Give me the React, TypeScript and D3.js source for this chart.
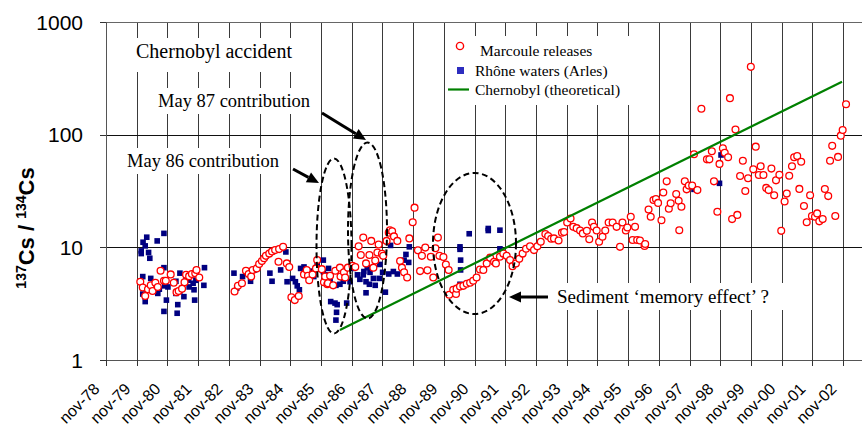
import React, { useEffect, useRef } from 'react';
import * as d3 from 'd3';

// x axis labels (one per November, Excel date axis)
const tickLabels = [
	'nov-78', 'nov-79', 'nov-80', 'nov-81', 'nov-82', 'nov-83', 'nov-84',
	'nov-85', 'nov-86', 'nov-87', 'nov-88', 'nov-89', 'nov-90', 'nov-91',
	'nov-92', 'nov-93', 'nov-94', 'nov-95', 'nov-96', 'nov-97', 'nov-98',
	'nov-99', 'nov-00', 'nov-01', 'nov-02',
];
const yTicks = [1, 10, 100, 1000];
const xEnd = 2003.45; // axis runs a bit past nov-02

// 137Cs/134Cs ratio, [decimal year, ratio]
const marcoule: [number, number][] = [
	[1979.95, 4.95], [1980.03, 4.4], [1980.11, 3.7], [1980.2, 4.25], [1980.29, 4.6], [1980.35, 4.1],
	[1980.44, 4.85], [1980.52, 4.45], [1980.61, 6.2], [1980.72, 5.05], [1980.78, 5.05], [1980.94, 5.75],
	[1981.04, 4.85], [1981.13, 4.0], [1981.2, 4.1], [1981.31, 4.3], [1981.39, 4.9], [1981.44, 5.7],
	[1981.54, 5.55], [1981.63, 5.8], [1981.74, 5.9], [1981.78, 6.3], [1981.87, 5.4],
	[1983.02, 4.05], [1983.13, 4.55], [1983.26, 4.8], [1983.39, 6.2], [1983.48, 5.8], [1983.56, 5.5],
	[1983.61, 6.3], [1983.74, 6.5], [1983.82, 7.1], [1983.91, 7.55], [1983.98, 8.0], [1984.04, 8.4],
	[1984.15, 8.8], [1984.24, 9.2], [1984.34, 9.45], [1984.45, 7.45], [1984.47, 9.65], [1984.6, 10.1],
	[1984.72, 7.2], [1984.8, 6.7], [1984.87, 3.6], [1984.98, 3.4], [1985.11, 3.7], [1985.28, 5.75],
	[1985.37, 6.3], [1985.41, 5.6], [1985.45, 5.1], [1985.56, 5.75], [1985.67, 6.5], [1985.71, 7.7],
	[1985.86, 6.4], [1985.93, 4.9], [1985.97, 5.5], [1986.04, 4.7], [1986.06, 4.8], [1986.13, 5.6],
	[1986.23, 4.6], [1986.3, 6.2], [1986.45, 6.6], [1986.47, 5.5], [1986.58, 6.0], [1986.62, 5.4],
	[1986.71, 6.6], [1986.86, 6.85], [1986.95, 6.7], [1987.06, 10.2], [1987.13, 8.55], [1987.21, 12.2],
	[1987.3, 7.2], [1987.41, 8.55], [1987.47, 11.4], [1987.54, 6.6], [1987.6, 7.65], [1987.67, 9.0],
	[1987.71, 10.6], [1987.82, 8.75], [1987.86, 8.4], [1987.97, 11.4], [1988.04, 13.5], [1988.08, 14.2],
	[1988.15, 13.9], [1988.21, 12.5], [1988.32, 11.4], [1988.41, 7.55], [1988.47, 6.6], [1988.54, 6.0],
	[1988.64, 5.4], [1988.71, 12.0], [1988.82, 16.7], [1988.88, 22.5], [1988.99, 9.4], [1989.06, 6.15],
	[1989.12, 8.4], [1989.23, 9.95], [1989.3, 6.25], [1989.41, 8.25], [1989.49, 5.4], [1989.56, 9.8],
	[1989.64, 12.2], [1989.69, 8.4], [1989.82, 8.2], [1989.9, 7.05], [1989.99, 6.3],
	[1990.01, 3.8], [1990.14, 4.2], [1990.23, 3.85], [1990.25, 4.3], [1990.36, 4.5], [1990.47, 4.55],
	[1990.58, 4.75], [1990.69, 4.85], [1990.79, 5.05], [1990.9, 5.4], [1991.01, 6.35], [1991.12, 6.3],
	[1991.23, 7.2], [1991.34, 8.1], [1991.47, 7.45], [1991.53, 7.2], [1991.66, 8.25], [1991.77, 8.8],
	[1991.88, 8.4], [1991.99, 7.7], [1992.07, 6.8], [1992.18, 7.2], [1992.29, 7.9], [1992.4, 8.8],
	[1992.51, 9.7], [1992.64, 10.2], [1992.77, 9.45], [1992.88, 10.2], [1992.99, 11.2], [1993.14, 13.1],
	[1993.23, 12.6], [1993.33, 11.9], [1993.42, 12.0], [1993.57, 11.5], [1993.68, 13.5], [1993.75, 13.7],
	[1993.85, 16.6], [1993.96, 18.0], [1994.05, 15.2], [1994.16, 14.8], [1994.27, 14.1], [1994.36, 13.3],
	[1994.49, 14.0], [1994.57, 11.8], [1994.66, 16.6], [1994.72, 15.2], [1994.81, 14.1], [1994.89, 11.2],
	[1995.0, 12.4], [1995.09, 14.1], [1995.2, 16.6], [1995.33, 16.6], [1995.46, 15.2], [1995.57, 10.1],
	[1995.65, 16.6], [1995.76, 14.1], [1995.81, 15.0], [1995.92, 18.7], [1995.98, 11.6], [1996.06, 15.2],
	[1996.13, 11.6], [1996.22, 11.5], [1996.37, 10.3], [1996.39, 10.7], [1996.5, 21.7], [1996.57, 18.7],
	[1996.66, 26.3], [1996.74, 26.8], [1996.81, 24.8], [1996.92, 17.4], [1996.98, 30.7], [1997.09, 38.5],
	[1997.16, 22.0], [1997.22, 24.6], [1997.4, 29.7], [1997.48, 25.9], [1997.5, 14.2], [1997.57, 22.9],
	[1997.68, 38.5], [1997.74, 32.7], [1997.81, 35.3], [1997.92, 35.3], [1997.98, 67], [1998.09, 32.2],
	[1998.22, 170], [1998.4, 60.4], [1998.48, 60.4], [1998.56, 71.3], [1998.63, 38.5], [1998.74, 20.7],
	[1998.81, 55], [1998.92, 75.6], [1998.98, 69], [1999.09, 63], [1999.15, 211], [1999.22, 17.8],
	[1999.33, 111], [1999.39, 19.4], [1999.48, 43], [1999.57, 58.7], [1999.65, 31.6], [1999.74, 41],
	[1999.83, 400], [1999.91, 49.2], [1999.99, 78.3], [2000.09, 43.8], [2000.15, 52.5], [2000.24, 43.8],
	[2000.33, 33.7], [2000.41, 32.2], [2000.5, 50], [2000.59, 29], [2000.65, 39.3], [2000.76, 44],
	[2000.82, 14.0], [2000.93, 25.5], [2001.0, 30], [2001.08, 43.2], [2001.17, 52.5], [2001.24, 63],
	[2001.34, 64.5], [2001.41, 33], [2001.47, 57.5], [2001.56, 23.3], [2001.65, 16.7], [2001.76, 29],
	[2001.82, 19.0], [2001.92, 18.7], [2001.99, 20.0], [2002.06, 17.0], [2002.17, 17.8], [2002.24, 32.9],
	[2002.35, 28.5], [2002.41, 58.7], [2002.48, 79.6], [2002.58, 19.0], [2002.67, 63.5], [2002.76, 98],
	[2002.82, 110], [2002.93, 186],
];

const rhone: [number, number][] = [
	[1979.98, 9.3], [1979.98, 8.8], [1980.03, 5.5], [1980.03, 3.85], [1980.04, 11.1], [1980.11, 10.3],
	[1980.11, 3.3], [1980.16, 12.3], [1980.22, 9.0], [1980.24, 4.2], [1980.26, 8.0], [1980.29, 5.3],
	[1980.37, 4.3], [1980.5, 11.4], [1980.52, 3.9], [1980.57, 4.25], [1980.72, 13.3], [1980.72, 6.6],
	[1980.72, 2.7], [1980.74, 4.55], [1980.8, 3.4], [1980.85, 4.45], [1981.11, 5.0], [1981.11, 3.9],
	[1981.15, 2.6], [1981.17, 3.1], [1981.24, 5.9], [1981.24, 4.1], [1981.37, 3.65], [1981.44, 5.5],
	[1981.52, 5.1], [1981.54, 4.45], [1981.63, 5.7], [1981.67, 4.8], [1981.7, 4.2], [1981.72, 3.4],
	[1981.76, 5.1], [1982.02, 4.6], [1982.04, 6.6],
	[1983.0, 5.9], [1983.09, 4.35], [1983.28, 5.5], [1983.52, 5.9], [1983.54, 5.0], [1983.67, 6.3],
	[1984.17, 5.9], [1984.24, 5.0], [1984.52, 6.3], [1984.69, 9.1], [1984.73, 4.95], [1984.91, 5.3],
	[1985.0, 4.95], [1985.06, 4.55], [1985.13, 4.2], [1985.17, 6.5], [1985.28, 6.7], [1985.47, 6.15],
	[1985.6, 5.5], [1985.71, 7.05], [1985.8, 6.4], [1985.91, 7.7], [1985.91, 6.1], [1986.0, 5.7],
	[1986.08, 6.5], [1986.13, 4.95], [1986.15, 3.3], [1986.29, 3.2], [1986.32, 4.6], [1986.34, 2.65],
	[1986.32, 2.26], [1986.36, 3.1], [1986.45, 4.7], [1986.56, 5.0], [1986.67, 3.2], [1986.78, 4.95],
	[1986.89, 6.5], [1987.02, 5.7], [1987.1, 5.2], [1987.21, 5.7], [1987.23, 6.1], [1987.3, 4.95],
	[1987.3, 3.95], [1987.34, 6.6], [1987.41, 4.7], [1987.43, 6.0], [1987.54, 5.3], [1987.6, 4.6],
	[1987.73, 5.3], [1987.75, 7.05], [1987.84, 6.0], [1987.93, 4.0], [1988.04, 5.8], [1988.1, 10.4],
	[1988.19, 6.1], [1988.32, 5.8], [1988.54, 7.7], [1988.6, 8.65], [1988.69, 7.35], [1988.71, 10.1],
	[1990.36, 10.1], [1990.36, 9.6], [1990.38, 7.7], [1990.38, 6.3], [1990.36, 4.7], [1990.66, 13.2],
	[1991.28, 14.7], [1991.28, 14.1], [1991.66, 14.2], [1991.66, 9.7],
	[1997.98, 32.7], [1998.81, 37], [1998.86, 66],
];

// theoretical Chernobyl ratio, end points of the line
const chernobyl: [number, number][] = [
	[1986.45, 1.85],
	[2002.8, 295],
];

const width = 862;
const height = 437;
const plot = { left: 106, right: 862, top: 22, bottom: 360 };

const sans = "'Liberation Sans', Arial, sans-serif";
const serif = "'Liberation Serif', 'Times New Roman', serif";

// 'nov-86' -> 1986.83
const labelYear = (s: string) => {
	const yy = +s.slice(4);
	return (yy < 50 ? 2000 : 1900) + yy + 10 / 12;
};

const App: React.FC = () => {
	const ref = useRef<SVGSVGElement>(null);

	useEffect(() => {
		if (!ref.current) return;
		const svg = d3.select(ref.current);
		svg.selectAll('*').remove();

		const x = d3
			.scaleLinear()
			.domain([labelYear(tickLabels[0]), xEnd])
			.range([plot.left, plot.right]);
		const y = d3.scaleLog().domain([1, 1000]).range([plot.bottom, plot.top]);

		svg.append('rect').attr('width', width).attr('height', height).attr('fill', 'white');

		// --- grid ---
		const grid = svg.append('g');
		tickLabels.slice(1).forEach((t) => {
			const px = Math.round(x(labelYear(t))) + 0.5;
			grid
				.append('line')
				.attr('x1', px)
				.attr('x2', px)
				.attr('y1', plot.top)
				.attr('y2', plot.bottom)
				.attr('stroke', '#3a3a3a')
				.attr('stroke-width', 1);
		});
		yTicks.slice(1).forEach((v) => {
			const py = Math.round(y(v)) + 0.5;
			grid
				.append('line')
				.attr('x1', plot.left)
				.attr('x2', plot.right)
				.attr('y1', py)
				.attr('y2', py)
				.attr('stroke', v === 1000 ? '#666' : '#111')
				.attr('stroke-width', 1);
		});

		// --- axes ---
		const axisG = svg.append('g');
		const axisX = Math.round(plot.left) + 0.5;
		const axisY = Math.round(plot.bottom) + 0.5;
		axisG
			.append('line')
			.attr('x1', axisX)
			.attr('x2', axisX)
			.attr('y1', plot.top)
			.attr('y2', plot.bottom)
			.attr('stroke', '#555');
		axisG
			.append('line')
			.attr('x1', plot.left)
			.attr('x2', plot.right)
			.attr('y1', axisY)
			.attr('y2', axisY)
			.attr('stroke', '#555');

		yTicks.forEach((v) => {
			const py = Math.round(y(v)) + 0.5;
			axisG
				.append('line')
				.attr('x1', plot.left - 6)
				.attr('x2', plot.left)
				.attr('y1', py)
				.attr('y2', py)
				.attr('stroke', '#333');
			axisG
				.append('text')
				.attr('x', 83)
				.attr('y', y(v))
				.attr('dy', '0.36em')
				.attr('text-anchor', 'end')
				.attr('font-family', sans)
				.attr('font-size', 21)
				.text(v);
		});

		tickLabels.forEach((t) => {
			const px = Math.round(x(labelYear(t))) + 0.5;
			axisG
				.append('line')
				.attr('x1', px)
				.attr('x2', px)
				.attr('y1', plot.bottom)
				.attr('y2', plot.bottom + 6)
				.attr('stroke', '#333');
			axisG
				.append('text')
				.attr('transform', `translate(${px - 6}, 390) rotate(-45)`)
				.attr('text-anchor', 'end')
				.attr('font-family', sans)
				.attr('font-size', 16)
				.text(t);
		});

		// y axis title 137Cs / 134Cs
		const yTitle = svg
			.append('text')
			.attr('transform', 'translate(34, 228) rotate(-90)')
			.attr('text-anchor', 'middle')
			.attr('font-family', sans)
			.attr('font-weight', 'bold')
			.attr('font-size', 22);
		yTitle.append('tspan').attr('font-size', 14).attr('dy', -8).text('137');
		yTitle.append('tspan').attr('dy', 8).text('Cs\u00a0/\u00a0');
		yTitle.append('tspan').attr('font-size', 14).attr('dy', -8).text('134');
		yTitle.append('tspan').attr('dy', 8).text('Cs');

		// --- annotation text boxes (white background, like Excel text boxes) ---
		const notes = svg.append('g');
		const boxes = [
			{ x: 128, y: 38, w: 172, h: 34, text: 'Chernobyl accident', tx: 136, ty: 58, fs: 20 },
			{ x: 152, y: 88, w: 168, h: 26, text: 'May 87 contribution', tx: 158, ty: 107, fs: 18.5 },
			{ x: 121, y: 148, w: 168, h: 26, text: 'May 86 contribution', tx: 127, ty: 167, fs: 18.5 },
			{ x: 551, y: 283, w: 240, h: 27, text: 'Sediment \u2018memory effect\u2019 ?', tx: 557, ty: 303, fs: 19 },
		];
		boxes.forEach((b) => {
			notes
				.append('rect')
				.attr('x', b.x)
				.attr('y', b.y)
				.attr('width', b.w)
				.attr('height', b.h)
				.attr('fill', 'white');
			notes
				.append('text')
				.attr('x', b.tx)
				.attr('y', b.ty)
				.attr('font-family', serif)
				.attr('font-size', b.fs)
				.text(b.text);
		});

		// --- series ---
		const dataG = svg.append('g');
		dataG
			.selectAll('rect.rhone')
			.data(rhone)
			.enter()
			.append('rect')
			.attr('class', 'rhone')
			.attr('x', (d) => x(d[0]) - 2.8)
			.attr('y', (d) => y(d[1]) - 2.8)
			.attr('width', 5.6)
			.attr('height', 5.6)
			.attr('fill', '#000080');

		dataG
			.selectAll('circle.marcoule')
			.data(marcoule)
			.enter()
			.append('circle')
			.attr('class', 'marcoule')
			.attr('cx', (d) => x(d[0]))
			.attr('cy', (d) => y(d[1]))
			.attr('r', 3.4)
			.attr('fill', 'white')
			.attr('stroke', '#ff0000')
			.attr('stroke-width', 1.3);

		const line = d3
			.line<[number, number]>()
			.x((d) => x(d[0]))
			.y((d) => y(d[1]));
		dataG
			.append('path')
			.attr('d', line(chernobyl) as string)
			.attr('fill', 'none')
			.attr('stroke', '#008000')
			.attr('stroke-width', 2.2);

		// --- dashed ellipses ---
		const ellipses = [
			{ cx: 334, cy: 246, rx: 17.5, ry: 87.5 },
			{ cx: 367.5, cy: 230.5, rx: 19.5, ry: 88 },
			{ cx: 474.5, cy: 243.5, rx: 41.5, ry: 70.5 },
		];
		ellipses.forEach((e) => {
			notes
				.append('ellipse')
				.attr('cx', e.cx)
				.attr('cy', e.cy)
				.attr('rx', e.rx)
				.attr('ry', e.ry)
				.attr('fill', 'none')
				.attr('stroke', 'black')
				.attr('stroke-width', 2)
				.attr('stroke-dasharray', '6,3.5');
		});
		svg.node()!.appendChild(notes.node()!);

		// --- arrows ---
		const arrow = (x1: number, y1: number, x2: number, y2: number) => {
			const len = Math.hypot(x2 - x1, y2 - y1);
			const ux = (x2 - x1) / len;
			const uy = (y2 - y1) / len;
			const hl = 12;
			const hw = 5.5;
			const bx = x2 - ux * hl;
			const by = y2 - uy * hl;
			svg
				.append('line')
				.attr('x1', x1)
				.attr('y1', y1)
				.attr('x2', bx)
				.attr('y2', by)
				.attr('stroke', 'black')
				.attr('stroke-width', 3);
			svg
				.append('path')
				.attr(
					'd',
					`M${x2},${y2}L${bx - uy * hw},${by + ux * hw}L${bx + uy * hw},${by - ux * hw}Z`,
				)
				.attr('fill', 'black');
		};
		arrow(322, 113, 366, 140);
		arrow(293, 169, 319, 183);
		arrow(548, 297, 509, 297);

		// --- legend ---
		const legend = svg.append('g');
		legend
			.append('rect')
			.attr('x', 446)
			.attr('y', 36)
			.attr('width', 190)
			.attr('height', 69)
			.attr('fill', 'white');
		legend
			.append('circle')
			.attr('cx', 460)
			.attr('cy', 46)
			.attr('r', 3.6)
			.attr('fill', 'white')
			.attr('stroke', '#ff0000')
			.attr('stroke-width', 1.4);
		legend
			.append('rect')
			.attr('x', 457)
			.attr('y', 67)
			.attr('width', 7)
			.attr('height', 7)
			.attr('fill', '#2d2dbf');
		legend
			.append('line')
			.attr('x1', 448)
			.attr('x2', 469)
			.attr('y1', 89.5)
			.attr('y2', 89.5)
			.attr('stroke', '#008000')
			.attr('stroke-width', 2.2);
		const legendTexts = [
			{ t: 'Marcoule releases', x: 480, y: 56 },
			{ t: 'Rh\u00f4ne waters (Arles)', x: 475, y: 76 },
			{ t: 'Chernobyl (theoretical)', x: 475, y: 95 },
		];
		legendTexts.forEach((l) => {
			legend
				.append('text')
				.attr('x', l.x)
				.attr('y', l.y)
				.attr('font-family', serif)
				.attr('font-size', 15.5)
				.text(l.t);
		});
	}, []);

	return (
		<svg
			ref={ref}
			width={width}
			height={height}
			style={{ position: 'absolute', left: 0, top: 0, display: 'block' }}
		/>
	);
};

export default App;
